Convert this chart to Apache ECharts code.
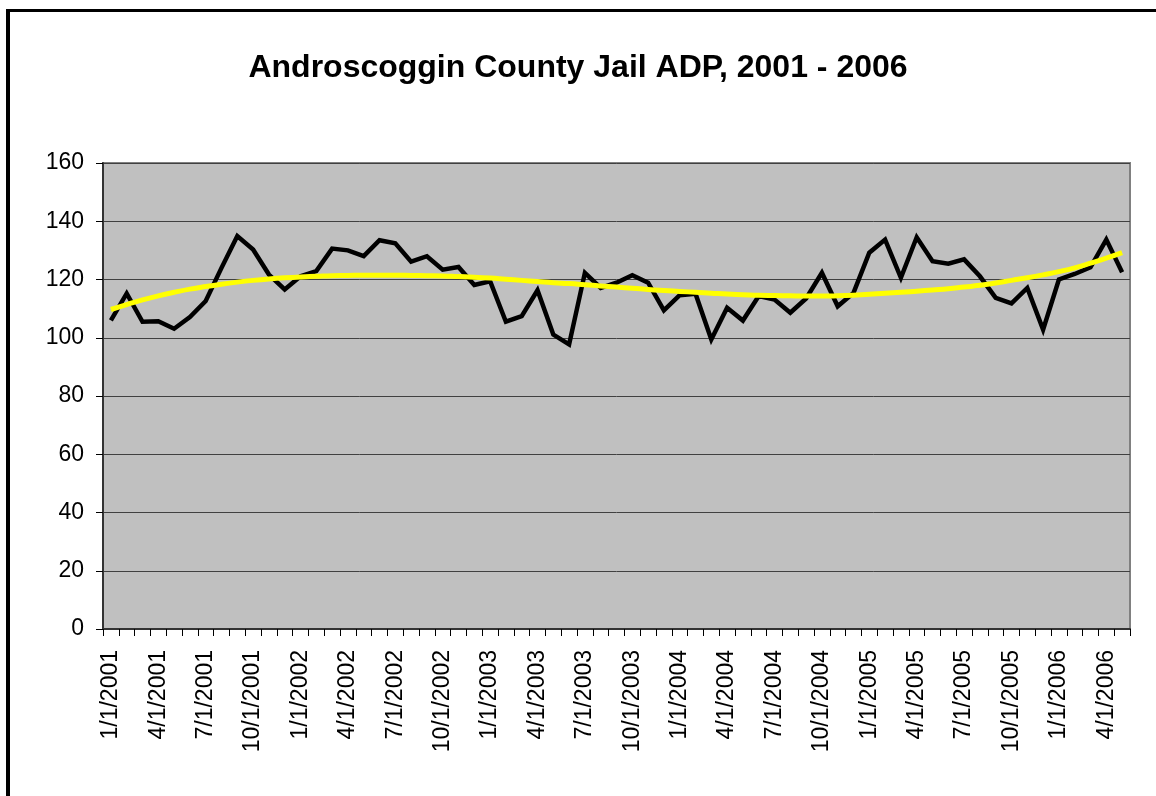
<!DOCTYPE html>
<html>
<head>
<meta charset="utf-8">
<script src="https://cdn.jsdelivr.net/npm/echarts@6/dist/echarts.min.js"></script>
<style>
html,body{margin:0;padding:0;background:#fff;}
#chart{width:1156px;height:796px;}
</style>
</head>
<body>
<div id="chart"></div>
<script>
const titleText = 'Androscoggin County Jail ADP, 2001 - 2006';

const months = [];
for (let y = 2001; y <= 2006; y++) {
  for (let m = 1; m <= 12; m++) {
    if (y === 2006 && m > 5) break;
    months.push(m + '/1/' + y);
  }
}

const adp = [106.0,115.2,105.5,105.7,103.1,107.1,112.6,124.0,134.9,130.3,
             121.7,116.6,121.1,122.9,130.6,130.0,128.0,133.5,132.4,126.1,
             128.0,123.4,124.3,118.1,119.4,105.5,107.4,116.3,101.1,97.7,
             122.3,117.1,118.9,121.5,118.9,109.4,114.6,115.1,99.4,110.3,
             105.9,114.3,113.1,108.6,113.5,122.3,110.8,115.4,129.2,133.7,
             120.6,134.5,126.3,125.4,126.9,121.1,113.7,111.8,117.1,102.8,
             120.0,121.9,124.2,133.7,122.5];

const trend = [109.7,111.4,113.0,114.4,115.6,116.7,117.6,118.4,119.1,119.7,
               120.2,120.6,120.9,121.1,121.3,121.4,121.5,121.5,121.5,121.4,
               121.3,121.2,121.0,120.8,120.5,120.1,119.7,119.3,118.9,118.6,
               118.2,117.8,117.4,117.0,116.6,116.2,115.9,115.6,115.3,115.0,
               114.8,114.6,114.5,114.4,114.3,114.3,114.4,114.6,114.9,115.3,
               115.6,116.0,116.4,116.8,117.4,118.0,118.8,119.7,120.6,121.6,
               122.7,124.0,125.6,127.3,129.2];

const yTicks = [0,20,40,60,80,100,120,140,160];

const chart = echarts.init(document.getElementById('chart'), null, {renderer:'canvas'});
const font = "'Liberation Sans', Arial, sans-serif";

chart.setOption({
  animation: false,
  backgroundColor: '#ffffff',
  title: {
    text: titleText,
    left: 'center',
    top: 47,
    textStyle: {fontFamily: font, fontSize: 32, fontWeight: 'bold', color: '#000'}
  },
  graphic: [
    {type:'rect', shape:{x:6, y:9, width:4, height:800}, style:{fill:'#000'}},
    {type:'rect', shape:{x:6, y:9, width:1160, height:3}, style:{fill:'#000'}}
  ],
  grid: {
    left: 103, top: 163, right: 26, bottom: 167,
    show: true, backgroundColor: '#C0C0C0', borderColor: '#808080', borderWidth: 2
  },
  xAxis: {
    type: 'category',
    data: months,
    boundaryGap: true,
    axisLine: {lineStyle: {color: '#333', width: 2}},
    axisTick: {show: true, interval: 0, length: 7, lineStyle: {color: '#000', width: 1}},
    axisLabel: {interval: 2, rotate: 90, margin: 21, fontFamily: font, fontSize: 23, color: '#000'},
    splitLine: {show: false}
  },
  yAxis: {
    type: 'value',
    min: yTicks[0], max: yTicks[yTicks.length-1], interval: 20,
    axisLine: {show: true, lineStyle: {color: '#333', width: 2}},
    axisTick: {show: true, length: 7, lineStyle: {color: '#000', width: 1}},
    axisLabel: {margin: 19, fontFamily: font, fontSize: 23, color: '#000'},
    splitLine: {show: true, lineStyle: {color: '#404040', width: 1}}
  },
  series: [
    {
      name: 'ADP', type: 'line', data: adp, showSymbol: false, symbol: 'none',
      lineStyle: {color: '#000', width: 4.5, join: 'miter'}, z: 2
    },
    {
      name: 'Trend', type: 'line', data: trend, showSymbol: false, symbol: 'none', smooth: true,
      lineStyle: {color: '#FFFF00', width: 5}, z: 3
    }
  ]
});
</script>
</body>
</html>
